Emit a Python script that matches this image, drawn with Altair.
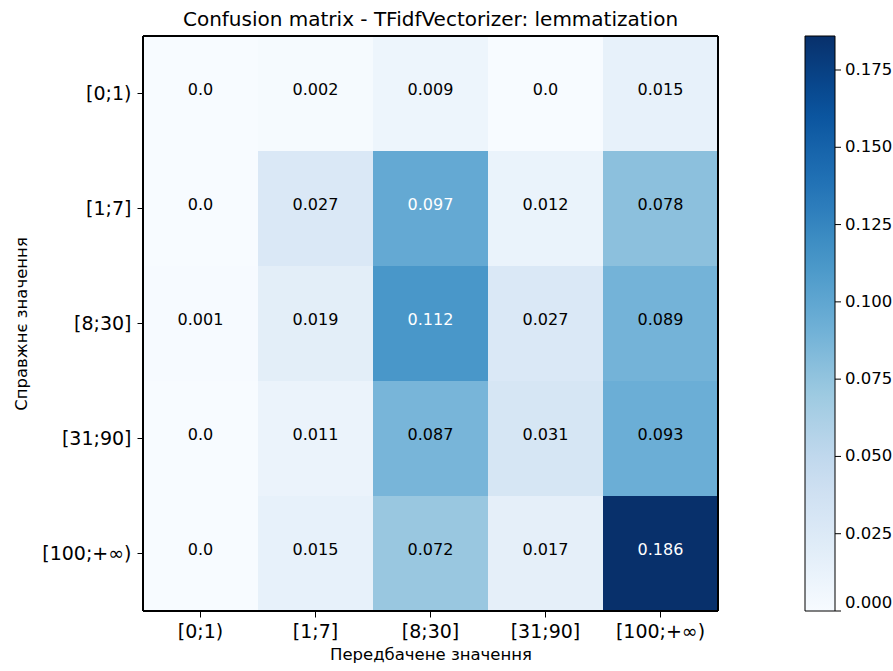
import altair as alt
import pandas as pd

# Class bins (true on rows, predicted on columns)
classes = ["[0;1)", "[1;7]", "[8;30]", "[31;90]", "[100;+∞)"]

# Normalised confusion-matrix rows, one list per true class
row_0_1 = [0.0, 0.002, 0.009, 0.0, 0.015]
row_1_7 = [0.0, 0.027, 0.097, 0.012, 0.078]
row_8_30 = [0.001, 0.019, 0.112, 0.027, 0.089]
row_31_90 = [0.0, 0.011, 0.087, 0.031, 0.093]
row_100_inf = [0.0, 0.015, 0.072, 0.017, 0.186]
rows = [row_0_1, row_1_7, row_8_30, row_31_90, row_100_inf]

# Colorbar tick values
cbar_ticks = [0.0, 0.025, 0.05, 0.075, 0.1, 0.125, 0.15, 0.175]

# Matplotlib "Blues" anchor colours
blues = ["#f7fbff", "#deebf7", "#c6dbef", "#9ecae1", "#6baed6",
         "#4292c6", "#2171b5", "#08519c", "#08306b"]

records = []
for true_cls, row in zip(classes, rows):
    for pred_cls, v in zip(classes, row):
        records.append({"actual": true_cls, "predicted": pred_cls,
                        "value": v, "label": str(v)})
df = pd.DataFrame(records)
ticks_df = pd.DataFrame({"tick": cbar_ticks})

vmax = max(max(r) for r in rows)
stops = [vmax * i / (len(blues) - 1) for i in range(len(blues))]
thresh = vmax / 2

FONT = "DejaVu Sans"
W, H = 575, 575
CBAR_X = 662          # colorbar left edge, relative to the plot area
CBAR_W = 30

x_enc = alt.X("predicted:N", sort=classes, title="Передбачене значення",
              scale=alt.Scale(paddingInner=0, paddingOuter=0),
              axis=alt.Axis(labelAngle=0, domain=False, ticks=True, tickSize=6,
                            tickColor="black", tickWidth=1, labelPadding=5,
                            labelFontSize=19, labelColor="black",
                            titleFontSize=16.5, titleColor="black",
                            titleFontWeight="normal", titlePadding=5, grid=False))
y_enc = alt.Y("actual:N", sort=classes, title="Справжнє значення",
              scale=alt.Scale(paddingInner=0, paddingOuter=0),
              axis=alt.Axis(domain=False, ticks=True, tickSize=6, tickColor="black",
                            tickWidth=1, labelPadding=6, labelFontSize=19,
                            labelColor="black", titleFontSize=16.5,
                            titleColor="black", titleFontWeight="normal",
                            titlePadding=12, grid=False))

heat = alt.Chart(df).mark_rect().encode(
    x=x_enc,
    y=y_enc,
    color=alt.Color(
        "value:Q",
        scale=alt.Scale(domain=stops, range=blues, interpolate="rgb"),
        legend=alt.Legend(
            orient="none", legendX=CBAR_X, legendY=0, direction="vertical",
            gradientLength=H, gradientThickness=CBAR_W,
            gradientStrokeColor="black", gradientStrokeWidth=1,
            values=cbar_ticks, format=".3f", labelFontSize=16.5,
            labelColor="black", labelOffset=10, labelBaseline="middle",
            title=None,
        ),
    ),
)

text = alt.Chart(df).mark_text(font=FONT, fontSize=16, dy=-4).encode(
    x=alt.X("predicted:N", sort=classes),
    y=alt.Y("actual:N", sort=classes),
    text="label:N",
    color=alt.condition(alt.datum.value > thresh, alt.value("white"), alt.value("black")),
)

# Outer frame around the matrix
frame = alt.Chart(df).mark_rect(filled=False, stroke="black", strokeWidth=1).encode(
    x=alt.value(0), x2=alt.value(W), y=alt.value(0), y2=alt.value(H)
)

matrix = alt.layer(heat, text, frame)

# Tick marks on the right side of the colorbar
cbar_tick_marks = alt.Chart(ticks_df).mark_rule(color="black", strokeWidth=1).encode(
    y=alt.Y("tick:Q", scale=alt.Scale(domain=[0, vmax], nice=False, zero=True), axis=None),
    x=alt.value(CBAR_X + CBAR_W),
    x2=alt.value(CBAR_X + CBAR_W + 6),
)

chart = (
    alt.layer(matrix, cbar_tick_marks)
    .resolve_scale(y="independent")
    .properties(
        width=W, height=H,
        title=alt.TitleParams("Confusion matrix - TFidfVectorizer: lemmatization",
                              fontSize=20, font=FONT, fontWeight="normal",
                              color="black", anchor="middle", frame="group", offset=6),
        autosize=alt.AutoSizeParams(type="none"),
        padding={"left": 143, "top": 36, "right": 175, "bottom": 60},
    )
    .configure(font=FONT, background="white")
    .configure_view(stroke=None)
    .configure_axis(labelFont=FONT, titleFont=FONT)
    .configure_legend(labelFont=FONT)
)

chart.save("out.html", embed_options={"renderer": "svg", "actions": False})
